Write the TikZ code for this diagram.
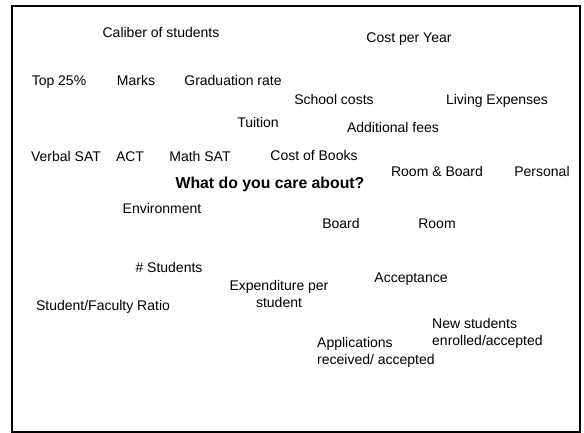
\documentclass[tikz,border=0pt]{standalone}
\usepackage{fontspec}
\setmainfont{Liberation Sans}
\usetikzlibrary{positioning}

\begin{document}
\begin{tikzpicture}[x=1pt,y=-1pt,
	lbl/.style={font=\fontsize{14}{17}\selectfont,inner sep=0pt,anchor=base},
	two/.style={font=\fontsize{14}{17}\selectfont,inner sep=0pt},
	main/.style={font=\fontsize{15.8}{18}\selectfont\bfseries,inner sep=0pt,anchor=base}]

\useasboundingbox (0,0) rectangle (584,433);
\draw[line width=2pt] (12,6) rectangle (580,432);

\node[lbl]   (caliber)  at (161,38)   {Caliber of students};
\node[lbl]   (cost)     at (409,43)   {Cost per Year};
\node[lbl]   (top)      at (59,86)    {Top 25\%};
\node[lbl]   (marks)    at (136,86)   {Marks};
\node[lbl]   (grad)     at (233,86)   {Graduation rate};
\node[lbl]   (school)   at (334,105)  {School costs};
\node[lbl]   (living)   at (497,105)  {Living Expenses};
\node[lbl]   (tuition)  at (258,128)  {Tuition};
\node[lbl]   (fees)     at (393,133)  {Additional fees};
\node[lbl]   (verbal)   at (66,162)   {Verbal SAT};
\node[lbl]   (act)      at (130,162)  {ACT};
\node[lbl]   (math)     at (200,162)  {Math SAT};
\node[lbl]   (books)    at (314,161)  {Cost of Books};
\node[lbl]   (roomboard) at (437,177) {Room \& Board};
\node[lbl]   (personal) at (542,177)  {Personal};
\node[main]  (care)     at (270,189)  {What do you care about?};
\node[lbl]   (env)      at (162,213)  {Environment};
\node[lbl]   (board)    at (341,228)  {Board};
\node[lbl]   (room)     at (437,228)  {Room};
\node[lbl]   (nstud)    at (169,272)  {\# Students};
\node[lbl]   (accept)   at (411,282)  {Acceptance};
\node[lbl]   (ratio)    at (103,310)  {Student/Faculty Ratio};
\node[two,align=center] (expend) at (279,294) {Expenditure per\\student};
\node[two,align=left,anchor=west] (enrolled) at (432,333) {New students\\enrolled/accepted};
\node[two,align=left,anchor=west] (apps)     at (317,352) {Applications\\received/ accepted};

\end{tikzpicture}
\end{document}
